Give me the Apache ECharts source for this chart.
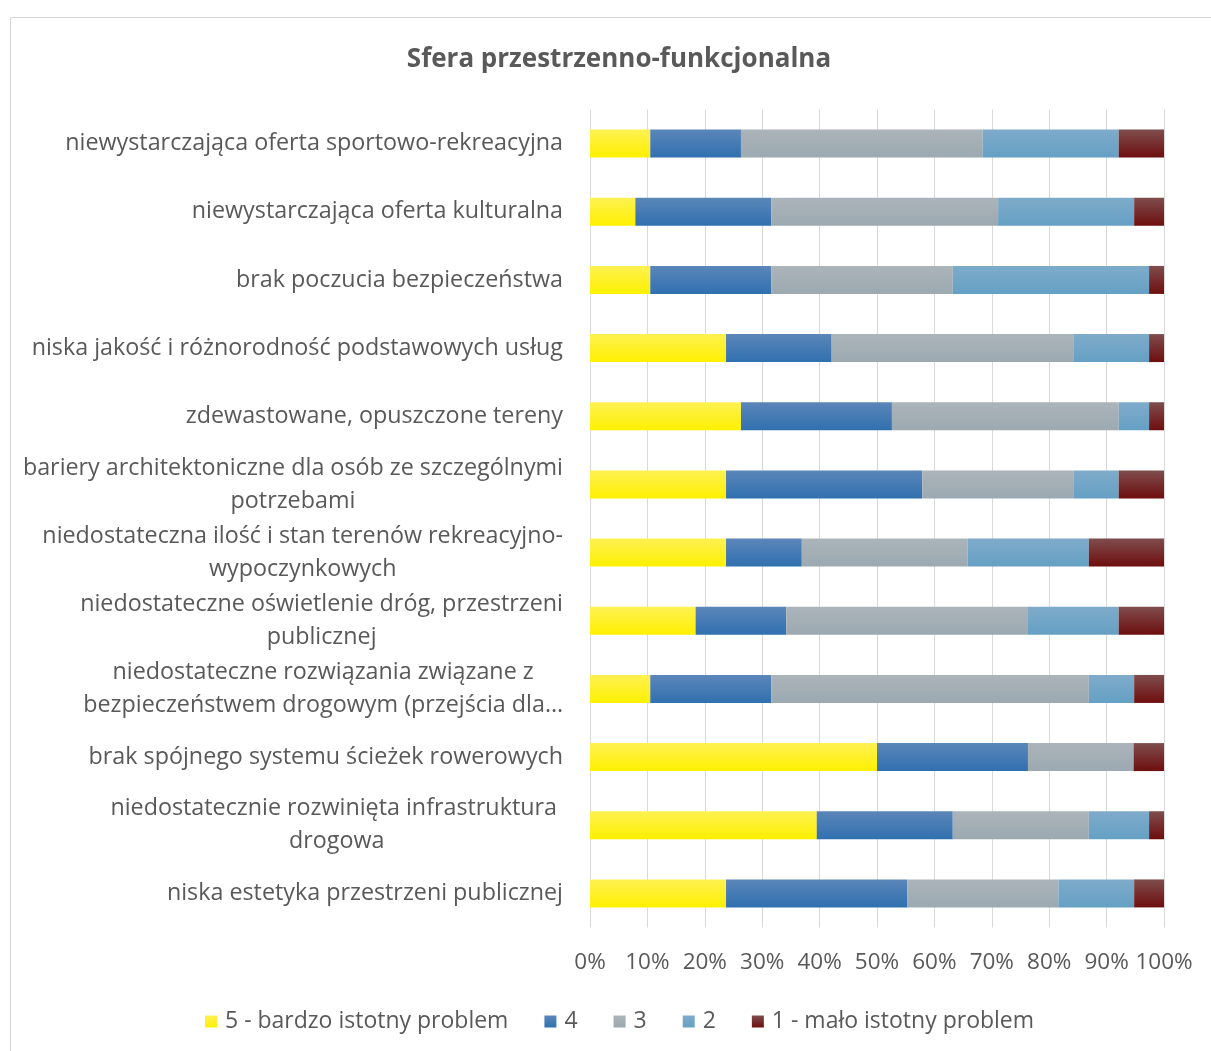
<!DOCTYPE html>
<html>
<head>
<meta charset="utf-8">
<script src="https://cdn.jsdelivr.net/npm/echarts@6/dist/echarts.min.js"></script>
<style>
html,body{margin:0;padding:0;background:#fff;}
#chart{width:1211px;height:1051px;}
</style>
</head>
<body>
<div id="chart"></div>
<script>
// categories, bottom to top (as in the source chart)
const categories = [
  "niska estetyka przestrzeni publicznej",
  "niedostatecznie rozwinięta infrastruktura \ndrogowa",
  "brak spójnego systemu ścieżek rowerowych",
  "niedostateczne rozwiązania związane z\nbezpieczeństwem drogowym (przejścia dla…",
  "niedostateczne oświetlenie dróg, przestrzeni\npublicznej",
  "niedostateczna ilość i stan terenów rekreacyjno-\nwypoczynkowych",
  "bariery architektoniczne dla osób ze szczególnymi\npotrzebami",
  "zdewastowane, opuszczone tereny",
  "niska jakość i różnorodność podstawowych usług",
  "brak poczucia bezpieczeństwa",
  "niewystarczająca oferta kulturalna",
  "niewystarczająca oferta sportowo-rekreacyjna"
];
const seriesNames = ["5 - bardzo istotny problem", "4", "3", "2", "1 - mało istotny problem"];
// shares in %
const s5 = [23.7, 39.5, 50.0, 10.5, 18.4, 23.7, 23.7, 26.3, 23.7, 10.5, 7.9, 10.5];
const s4 = [31.6, 23.7, 26.3, 21.1, 15.8, 13.2, 34.2, 26.3, 18.4, 21.1, 23.7, 15.8];
const s3 = [26.3, 23.7, 18.4, 55.3, 42.1, 28.9, 26.3, 39.5, 42.1, 31.6, 39.5, 42.1];
const s2 = [13.2, 10.5, 0.0, 7.9, 15.8, 21.1, 7.9, 5.3, 13.2, 34.2, 23.7, 23.7];
const s1 = [5.3, 2.6, 5.3, 5.3, 7.9, 13.2, 7.9, 2.6, 2.6, 2.6, 5.3, 7.9];
const xTicks = [0, 10, 20, 30, 40, 50, 60, 70, 80, 90, 100];

const seriesData = [s5, s4, s3, s2, s1];
const gradients = [
  ['#FEF152', '#FFF000'],
  ['#5B86B9', '#3070AF'],
  ['#ABB4B9', '#9CA9B1'],
  ['#7FABCA', '#65A0C4'],
  ['#7F4D4D', '#6E0E0E']
];
function grad(c) {
  return new echarts.graphic.LinearGradient(0, 0, 0, 1, [
    {offset: 0, color: c[0]}, {offset: 1, color: c[1]}
  ]);
}
const FONT = '"Open Sans"';
const TXT = '#595959';

const chart = echarts.init(document.getElementById('chart'), null, {renderer: 'canvas'});
chart.setOption({
  backgroundColor: '#ffffff',
  animation: false,
  textStyle: {fontFamily: FONT, color: TXT},
  graphic: [{
    type: 'rect', silent: true,
    shape: {x: 10.5, y: 17.5, width: 1215, height: 1050},
    style: {fill: 'none', stroke: '#d9d9d9', lineWidth: 1}
  }],
  title: {
    text: 'Sfera przestrzenno-funkcjonalna',
    left: 614, top: 42, textAlign: 'center',
    textStyle: {fontFamily: FONT, fontSize: 26, fontWeight: 'bold', color: TXT}
  },
  grid: {left: 590, right: 47, top: 109.5, bottom: 123.5, containLabel: false},
  legend: {
    left: 200, top: 1005, itemWidth: 12, itemHeight: 12, itemGap: 36,
    icon: 'rect',
    textStyle: {fontFamily: FONT, fontSize: 23, color: TXT, padding: [0, 0, 0, 3]},
    data: seriesNames
  },
  xAxis: {
    type: 'value', min: 0, max: 100, interval: 10,
    axisLine: {show: false}, axisTick: {show: false},
    splitLine: {show: true, lineStyle: {color: '#d9d9d9', width: 1}},
    axisLabel: {
      margin: 24, fontFamily: FONT, fontSize: 22.5, color: TXT,
      formatter: v => (xTicks.indexOf(v) >= 0 ? v + '%' : '')
    }
  },
  yAxis: {
    type: 'category', data: categories,
    axisLine: {show: false}, axisTick: {show: false},
    axisLabel: {
      margin: 27, fontFamily: FONT, fontSize: 23.3, color: TXT, lineHeight: 33,
      formatter: v => v.split('\n').map(l => '{c|' + l + '}').join('\n'),
      rich: {c: {align: 'center', fontFamily: FONT, fontSize: 23.3, color: TXT, lineHeight: 33}}
    }
  },
  series: seriesData.map((d, i) => ({
    name: seriesNames[i], type: 'bar', stack: 'all', barWidth: 28,
    itemStyle: {color: grad(gradients[i])},
    data: d
  }))
});
</script>
</body>
</html>
